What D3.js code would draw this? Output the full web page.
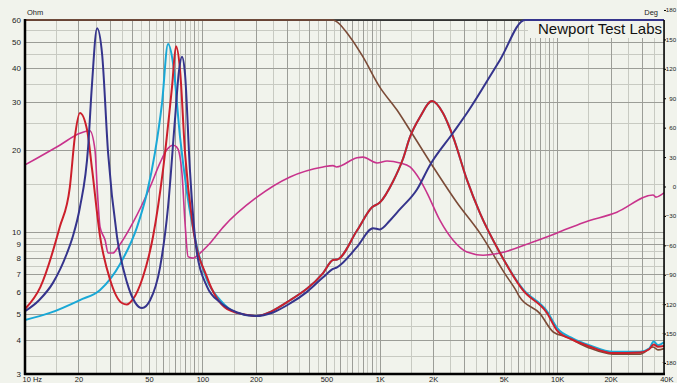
<!DOCTYPE html>
<html><head><meta charset="utf-8">
<script src="https://cdn.jsdelivr.net/npm/d3@7"></script>
<style>
html,body{margin:0;padding:0;background:#f1f3ec;}
svg{display:block;font-family:"Liberation Sans",Arial,Helvetica,sans-serif;}
</style></head>
<body>
<svg id="chart" width="677" height="383"></svg>
<script>
// ---- data (frequency in Hz, impedance in Ohm) ----
const navyFreq = [10,12,14.4,17.2,18.6,20.4,22.7,23.8,25.5,27.2,29.4,33,37.6,41.7,45.7,50.7,57.7,64,70,73.8,76.7,79.8,85,93,106,126,157,198,250,312,387,479,545,574,744,916,1000,1141,1300,1620,1920,2590,3100,4760,6580,8000,10000,20000,40000];
const navyOhm  = [5.1,5.6,6.5,8.3,9.6,12.3,20.5,34,56,45,19.5,9.6,6.5,5.5,5.24,5.6,7.4,12.3,25.7,39,44,38,17,8.4,6.3,5.5,5.05,4.9,5.05,5.45,6.0,6.8,7.3,7.4,8.8,10.3,10.2,11.0,12.1,14.3,17.6,23.1,27.3,42.8,60,72,88,150,220];

const redFreq = [10,12.2,15.7,17.9,19.1,20.4,22.4,23.9,26.5,30.2,35.2,37.5,40.6,46.2,52.7,60,67.4,71,74.8,79.8,88.5,106,138,185,198,312,479,545,575,744,904,1000,1187,1350,1480,1685,1970,2270,2590,3100,3670,4760,6410,8760,10000,12300,15300,20600,29300,33000,35000,37000,40000];
const redOhm  = [5.2,6.26,10.4,14.6,22.3,27.3,23.6,16.9,9.6,6.65,5.47,5.4,5.65,6.82,9.6,16.9,34,48,39.3,19.5,10.4,6.82,5.2,4.93,4.9,5.6,7.05,7.87,7.9,10.1,12.3,12.8,15.3,18.5,22.3,26.4,30.2,27.3,22.3,15.5,11.7,8.35,6.1,5.03,4.33,4.0,3.78,3.58,3.6,3.7,3.85,3.78,3.8];

const cyanFreq = [10,13.8,20.4,26.5,34.3,42.8,48.7,54,59.2,64,68.3,74.8,81.9,93.2,106,126,157,198,312,479,545,575,744,904,1000,1187,1350,1480,1685,1970,2270,2590,3100,3670,4760,6410,8760,10000,12300,15300,20600,29300,33000,35000,37000,40000];
const cyanOhm  = [4.74,5.03,5.61,6.11,7.6,10.4,13.9,19.5,29.7,49,41.7,22.3,13.9,8.79,6.65,5.61,5.03,4.9,5.6,7.05,7.87,7.9,10.1,12.3,12.8,15.3,18.5,22.3,26.4,30.2,27.3,22.3,15.5,11.7,8.35,6.15,5.1,4.42,4.05,3.82,3.62,3.62,3.72,3.95,3.83,3.92];

const brownFreq = [10,100,300,450,538,679,804,1000,1250,1480,2000,2720,3700,5080,5930,6100,8000,9500,11300,15000,20600,29300,34700,37000,40000];
const brownOhm  = [200,150,90,68,60,52,43.9,34,28,23.6,17.3,12.8,9.8,7.0,6.0,5.8,5.0,4.28,4.1,3.75,3.55,3.55,3.77,3.68,3.72];

const magentaFreq = [10,15.7,20.4,23.2,24.8,25.6,26.5,28.3,29.4,31.3,33.5,40.6,50.7,57.7,63,68.3,71.5,74,76.7,79.8,83,88.5,97,110,131,203,312,479,545,570,744,804,964,1098,1300,1480,1685,1845,2184,2590,3100,3820,4760,7300,10000,14000,21700,34700,36000,40000];
const magentaOhm  = [17.6,20.8,23.0,23.5,20,14,10.4,9.3,8.35,8.35,8.79,10.8,14.6,17.9,20,20.8,20.5,19.5,16.4,10.8,8.1,8.0,8.35,9.05,10.4,13.4,15.9,17.3,17.5,17.3,18.7,18.8,17.9,18.2,17.9,17.3,15.5,13.9,11.0,9.3,8.42,8.2,8.35,9.17,9.9,10.8,11.8,13.65,13.4,13.9];

const xTickVals   = [10,20,50,100,200,500,1000,2000,5000,10000,20000,40000];
const xTickLabels = ["10  Hz","20","50","100","200","500","1K","2K","5K","10K","20K","40K"];
const ohmTicks    = [60,50,40,30,20,10,9,8,7,6,5,4,3];
const degTicks    = [180,150,120,90,60,30,0,-30,-60,-90,-120,-150,-180];

// ---- layout ----
const W = 677, H = 383;
const L = 25, R = 664, T = 20, B = 374;
const svg = d3.select("#chart");
const x = d3.scaleLog().domain([10, 40000]).range([L, R]);
const y = d3.scaleLog().domain([3, 60]).range([B, T]).clamp(true);
const yDeg = d3.scaleLinear().domain([-180, 180]).range([363, 10]);

svg.append("rect").attr("width",W).attr("height",H).attr("fill","#f1f3ec");

// grid
const vLines = [];
[10,100,1000,10000].forEach(d => {
  for (let m = 1; m < 10; m += 0.5) { const f = d*m; if (f <= 40000) vLines.push({f, major: Number.isInteger(m)}); }
});
const hLines = [];
for (let v = 3; v < 10; v += 0.5) hLines.push({v, major: Number.isInteger(v)});
for (let v = 10; v <= 60; v += 5) hLines.push({v, major: v % 10 === 0});

const grid = svg.append("g");
grid.append("g").selectAll("line").data(hLines.filter(d=>!d.major)).join("line")
  .attr("x1",L).attr("x2",R).attr("y1",d=>Math.round(y(d.v))+0.5).attr("y2",d=>Math.round(y(d.v))+0.5)
  .attr("stroke","#c8cac2").attr("stroke-width",1);
grid.append("g").selectAll("line").data(vLines.filter(d=>!d.major)).join("line")
  .attr("y1",T).attr("y2",B).attr("x1",d=>Math.round(x(d.f))+0.5).attr("x2",d=>Math.round(x(d.f))+0.5)
  .attr("stroke","#c8cac2").attr("stroke-width",1);
grid.append("g").selectAll("line").data(hLines.filter(d=>d.major)).join("line")
  .attr("x1",L).attr("x2",R).attr("y1",d=>Math.round(y(d.v))+0.5).attr("y2",d=>Math.round(y(d.v))+0.5)
  .attr("stroke","#9c9d97").attr("stroke-width",1);
grid.append("g").selectAll("line").data(vLines.filter(d=>d.major)).join("line")
  .attr("y1",T).attr("y2",B).attr("x1",d=>Math.round(x(d.f))+0.5).attr("x2",d=>Math.round(x(d.f))+0.5)
  .attr("stroke","#9c9d97").attr("stroke-width",1);

// top border
svg.append("line").attr("x1",L).attr("x2",R).attr("y1",T).attr("y2",T).attr("stroke","#111").attr("stroke-width",1.5);

// clip
svg.append("clipPath").attr("id","clip").append("rect").attr("x",L).attr("y",T-2).attr("width",R-L).attr("height",B-T+2);

const line = d3.line().x(d=>x(d[0])).y(d=>y(d[1])).curve(d3.curveMonotoneX);
const series = [
  {f: brownFreq,   v: brownOhm,   color:"#7b4b37", w:1.6},
  {f: magentaFreq, v: magentaOhm, color:"#c8338c", w:1.6},
  {f: cyanFreq,    v: cyanOhm,    color:"#19a8d6", w:2},
  {f: redFreq,     v: redOhm,     color:"#cc1f2b", w:2},
  {f: navyFreq,    v: navyOhm,    color:"#35348c", w:2}
];
const curves = svg.append("g").attr("clip-path","url(#clip)");
curves.selectAll("path").data(series).join("path")
  .attr("d", s => line(s.f.map((f,i)=>[f, s.v[i]])))
  .attr("fill","none").attr("stroke",s=>s.color).attr("stroke-width",s=>s.w)
  .attr("stroke-linejoin","round");

// axis lines
svg.append("line").attr("x1",L).attr("x2",L).attr("y1",T-1).attr("y2",B+1).attr("stroke","#000").attr("stroke-width",2.5);
svg.append("line").attr("x1",L-1).attr("x2",R+1).attr("y1",B).attr("y2",B).attr("stroke","#000").attr("stroke-width",2.5);
svg.append("line").attr("x1",R).attr("x2",R).attr("y1",T).attr("y2",B).attr("stroke","#000").attr("stroke-width",1.5);

const FONT = "Liberation Sans, Arial, sans-serif";

// left axis labels
const ax = svg.append("g").attr("transform",`translate(${L},0)`)
  .call(d3.axisLeft(y).tickValues(ohmTicks).tickFormat(d3.format("d")).tickSize(0).tickPadding(4));
ax.select(".domain").remove();
ax.selectAll("text").attr("font-size",8).attr("fill","#222").attr("font-family",FONT);

// bottom axis labels (kept inside the picture)
const bx = svg.append("g").attr("transform",`translate(0,${B})`)
  .call(d3.axisBottom(x).tickValues(xTickVals).tickFormat((d,i)=>xTickLabels[i]).tickSize(0).tickPadding(2.6));
bx.select(".domain").remove();
bx.selectAll("text").attr("font-size",7.5).attr("fill","#222").attr("font-family",FONT);
bx.selectAll("text").filter(d=>d===10).attr("text-anchor","start").attr("x",-3);
bx.selectAll("text").filter(d=>d===40000).attr("text-anchor","end").attr("x",9);

// right axis (degrees): small ticks, labels right-aligned to the picture edge
const rx = svg.append("g").attr("transform",`translate(${R},0)`)
  .call(d3.axisRight(yDeg).tickValues(degTicks).tickFormat(d3.format("d")).tickSize(2).tickPadding(1));
rx.select(".domain").remove();
rx.selectAll("line").attr("stroke","#000");
rx.selectAll("text").attr("font-size",6.2).attr("fill","#222").attr("font-family",FONT)
  .attr("text-anchor","end").attr("x", W - R - 0.8);

// unit labels
svg.append("text").attr("x",27).attr("y",15).attr("font-size",7.5).attr("fill","#222").attr("font-family",FONT).text("Ohm");
svg.append("text").attr("x",658).attr("y",15).attr("text-anchor","end").attr("font-size",7.5).attr("fill","#222").attr("font-family",FONT).text("Deg");

// title
svg.append("rect").attr("x",528).attr("y",21).attr("width",135).attr("height",17).attr("fill","#f1f3ec");
svg.append("text").attr("x",662).attr("y",33.5).attr("text-anchor","end").attr("font-size",15).attr("fill","#111")
  .attr("font-family",FONT).text("Newport Test Labs");
</script>
</body></html>
